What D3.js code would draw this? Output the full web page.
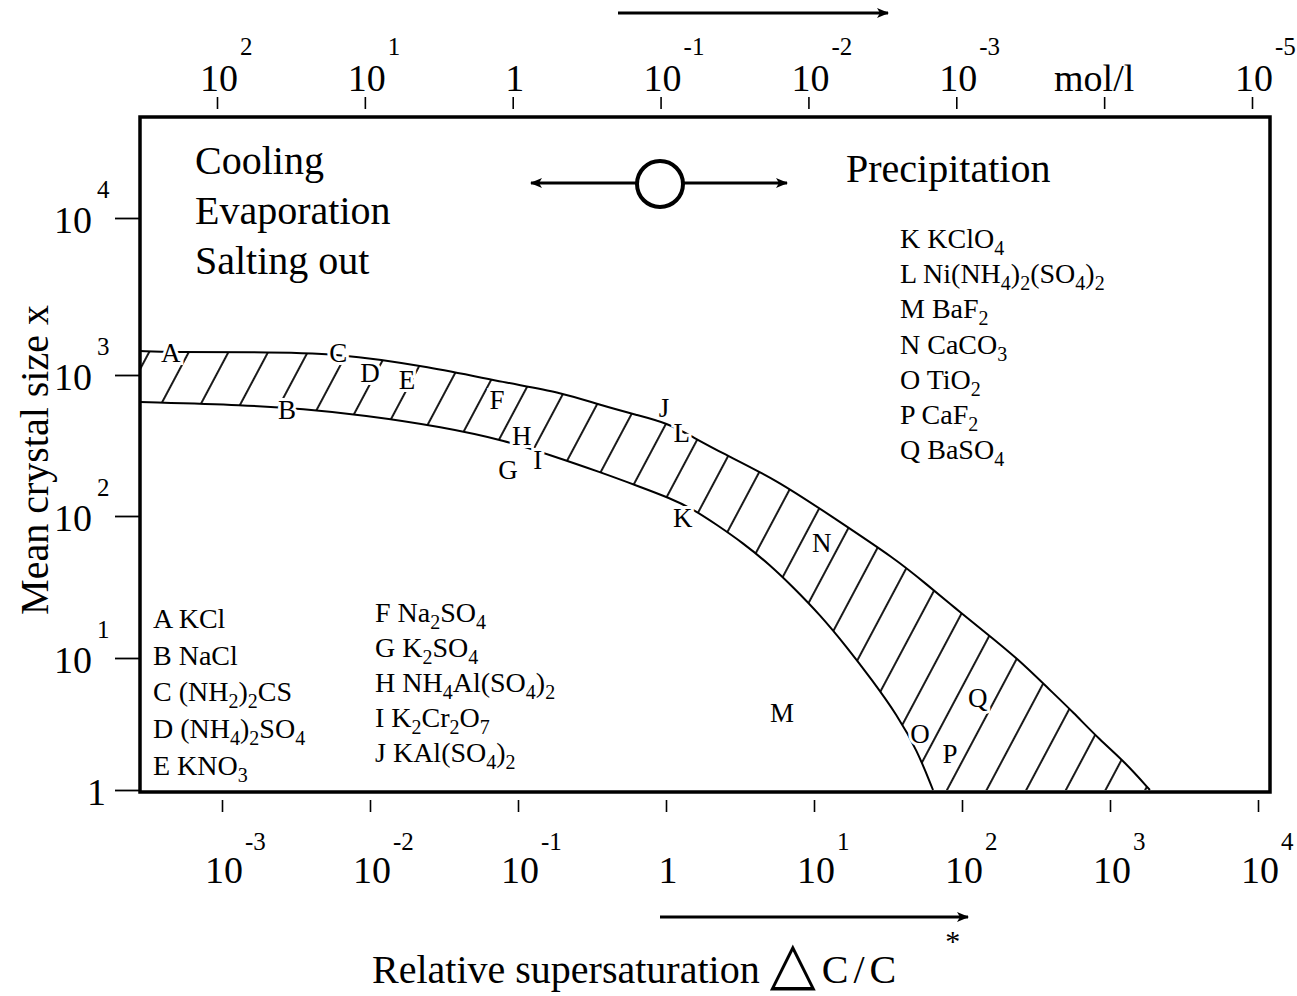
<!DOCTYPE html>
<html>
<head>
<meta charset="utf-8">
<script src="https://cdn.jsdelivr.net/npm/d3@7"></script>
<style>
  body { margin: 0; background: #fff; }
  text { font-family: "Liberation Serif", "Times New Roman", serif; fill: #000; }
</style>
</head>
<body>
<svg id="chart" width="1297" height="996"></svg>
<script>
// axis ticks and labels
const supersatTicks = [1e-3, 1e-2, 1e-1, 1, 1e1, 1e2, 1e3, 1e4];
const supersatLabels = [["10", "-3"], ["10", "-2"], ["10", "-1"], ["1", ""], ["10", "1"], ["10", "2"], ["10", "3"], ["10", "4"]];
const concTicks = [1e2, 1e1, 1, 1e-1, 1e-2, 1e-3, 1e-4, 1e-5];
const concLabels = [["10", "2"], ["10", "1"], ["1", ""], ["10", "-1"], ["10", "-2"], ["10", "-3"], ["mol/l", ""], ["10", "-5"]];
const sizeTicks = [1, 10, 100, 1000, 10000];
const sizeLabels = [["1", ""], ["10", "1"], ["10", "2"], ["10", "3"], ["10", "4"]];

// band limits: [relative supersaturation, mean crystal size]
const upperCurve = [
  [2.8e-4, 1420], [4.5e-4, 1400], [1.55e-3, 1400], [6.1e-3, 1380], [0.0254, 1125],
  [0.0843, 877], [0.192, 757], [0.358, 612], [0.637, 520], [1.02, 457],
  [1.52, 363], [2.32, 284], [5.62, 180], [13.4, 98], [36.4, 49],
  [56.2, 33.7], [89.7, 22.5], [143, 15.2], [235, 10], [394, 5.7],
  [562, 3.9], [855, 2.39], [1260, 1.63], [1860, 1]
];
const lowerCurve = [
  [2.8e-4, 644], [1.48e-3, 612], [3.5e-3, 574], [8.97e-3, 520], [0.0311, 428],
  [0.0843, 340], [0.164, 271], [0.358, 205], [0.667, 161], [1.06, 134],
  [1.52, 112], [2.21, 86.5], [3.31, 64.6], [5.05, 45.2], [7.21, 31.6],
  [11.0, 20.1], [16.7, 11.9], [24.7, 6.8], [36.4, 3.7], [49.7, 2.01], [63.7, 1]
];

// substance letters placed on the chart
const substanceIds = ["A", "B", "C", "D", "E", "F", "G", "H", "I", "J", "K", "L", "M", "N", "O", "P", "Q"];
const substanceSupersat = [4.5e-4, 2.75e-3, 6.1e-3, 0.01, 0.0178, 0.0721, 0.0855, 0.106, 0.136, 0.97, 1.30, 1.28, 6.08, 11.3, 52, 83, 128];
const substanceSize = [1380, 565, 1400, 1030, 922, 665, 212, 375, 250, 584, 98, 388, 3.83, 64.6, 2.7, 1.9, 4.98];

// legends
const legendCol1 = [["A", "KCl"], ["B", "NaCl"], ["C", "(NH2)2CS"], ["D", "(NH4)2SO4"], ["E", "KNO3"]];
const legendCol2 = [["F", "Na2SO4"], ["G", "K2SO4"], ["H", "NH4Al(SO4)2"], ["I", "K2Cr2O7"], ["J", "KAl(SO4)2"]];
const legendCol3 = [["K", "KClO4"], ["L", "Ni(NH4)2(SO4)2"], ["M", "BaF2"], ["N", "CaCO3"], ["O", "TiO2"], ["P", "CaF2"], ["Q", "BaSO4"]];

const processLabels = ["Cooling", "Evaporation", "Salting out"];

const svg = d3.select("#chart");
const frame = { left: 140, right: 1270, top: 117, bottom: 792 };

// scales (the original axes are hand drawn, the size axis is not evenly spaced)
const x = d3.scaleLog().domain([1e-3, 1e4]).range([222, 1258]);
const xTop = d3.scaleLog().domain([1e2, 1e-5]).range([217, 1252]);
const y = d3.scaleLog().domain(sizeTicks).range([790, 658, 516, 375, 218]);

const defs = svg.append("defs");
defs.append("clipPath").attr("id", "plot-clip")
  .append("rect")
  .attr("x", frame.left).attr("y", frame.top)
  .attr("width", frame.right - frame.left).attr("height", frame.bottom - frame.top);

const hatch = defs.append("pattern")
  .attr("id", "hatch")
  .attr("patternUnits", "userSpaceOnUse")
  .attr("width", 35).attr("height", 20)
  .attr("patternTransform", "rotate(28)");
hatch.append("line")
  .attr("x1", 17).attr("y1", 0).attr("x2", 17).attr("y2", 20)
  .attr("stroke", "#000").attr("stroke-width", 1.8);

defs.append("marker")
  .attr("id", "arrow")
  .attr("viewBox", "0 0 12 10")
  .attr("refX", 11).attr("refY", 5)
  .attr("markerWidth", 12).attr("markerHeight", 10)
  .attr("markerUnits", "userSpaceOnUse")
  .attr("orient", "auto-start-reverse")
  .append("path").attr("d", "M0,0L12,5L0,10L3,5Z").attr("fill", "#000");

// band between the two curves
const line = d3.line()
  .x(d => x(d[0]))
  .y(d => y(d[1]))
  .curve(d3.curveBasis);

const upperPath = line(upperCurve);
const lowerPath = line(lowerCurve);
const bandPath = upperPath + "L" + line(lowerCurve.slice().reverse()).slice(1) + "Z";

const plot = svg.append("g").attr("clip-path", "url(#plot-clip)");
plot.append("path").attr("d", bandPath).attr("fill", "url(#hatch)").attr("stroke", "none");
plot.selectAll("path.limit")
  .data([upperPath, lowerPath])
  .join("path")
  .attr("class", "limit")
  .attr("d", d => d)
  .attr("fill", "none")
  .attr("stroke", "#000")
  .attr("stroke-width", 2);

// letters on the curves, with a white halo so the lines break around them
svg.append("g")
  .selectAll("text")
  .data(substanceIds)
  .join("text")
  .attr("x", (d, i) => x(substanceSupersat[i]))
  .attr("y", (d, i) => y(substanceSize[i]))
  .attr("dy", "0.35em")
  .attr("text-anchor", "middle")
  .attr("font-size", 27)
  .attr("stroke", "#fff")
  .attr("stroke-width", 6)
  .attr("paint-order", "stroke")
  .text(d => d);

// frame
svg.append("rect")
  .attr("x", frame.left).attr("y", frame.top)
  .attr("width", frame.right - frame.left).attr("height", frame.bottom - frame.top)
  .attr("fill", "none").attr("stroke", "#000").attr("stroke-width", 3.5);

// axes
svg.append("g")
  .attr("transform", `translate(0,${frame.bottom + 8})`)
  .call(d3.axisBottom(x).tickValues(supersatTicks).tickSize(12).tickFormat(""))
  .call(g => g.select(".domain").remove())
  .call(g => g.selectAll("line").attr("stroke-width", 1.6));

svg.append("g")
  .attr("transform", `translate(0,${frame.top - 8})`)
  .call(d3.axisTop(xTop).tickValues(concTicks).tickSize(12).tickFormat(""))
  .call(g => g.select(".domain").remove())
  .call(g => g.selectAll("line").attr("stroke-width", 1.6));

svg.append("g")
  .attr("transform", `translate(${frame.left},0)`)
  .call(d3.axisLeft(y).tickValues(sizeTicks).tickSize(25).tickFormat(""))
  .call(g => g.select(".domain").remove())
  .call(g => g.selectAll("line").attr("stroke-width", 1.8));

// tick labels: base plus superscript
function powerLabels(g, ticks, labels, pos, opts) {
  const grp = g.append("g");
  grp.selectAll("text.base")
    .data(ticks)
    .join("text")
    .attr("class", "base")
    .attr("x", (d, i) => opts.bx(pos(d), labels[i]))
    .attr("y", (d, i) => opts.by(d))
    .attr("text-anchor", opts.anchor)
    .attr("font-size", 38)
    .text((d, i) => labels[i][0]);
  grp.selectAll("text.sup")
    .data(ticks)
    .join("text")
    .attr("class", "sup")
    .attr("x", (d, i) => opts.sx(pos(d)))
    .attr("y", d => opts.sy(d))
    .attr("font-size", 25)
    .text((d, i) => labels[i][1]);
}

powerLabels(svg, supersatTicks, supersatLabels, x, {
  anchor: "middle",
  bx: (p, l) => p + 2, by: () => 883,
  sx: p => p + 23, sy: () => 850
});
powerLabels(svg, concTicks, concLabels, xTop, {
  anchor: "middle",
  bx: (p, l) => l[0] === "mol/l" ? p - 10 : p + 2, by: () => 91,
  sx: p => p + 23, sy: () => 55
});
powerLabels(svg, sizeTicks, sizeLabels, d => d, {
  anchor: "end",
  bx: (p, l) => l[1] === "" ? 106 : 92, by: d => y(d) + 15,
  sx: () => 97, sy: d => y(d) - 20
});

// axis titles
svg.append("text")
  .attr("transform", "translate(48,460) rotate(-90)")
  .attr("text-anchor", "middle")
  .attr("font-size", 40)
  .text("Mean crystal size x");

const xTitle = svg.append("text")
  .attr("x", 372).attr("y", 983)
  .attr("font-size", 40);
xTitle.append("tspan").text("Relative supersaturation ");
xTitle.append("tspan").attr("font-family", "DejaVu Sans").attr("font-size", 60).text("\u25B3");
xTitle.append("tspan").attr("dx", 6).attr("letter-spacing", 5).text("C/C");
xTitle.append("tspan").attr("dx", 44).attr("dy", -32).attr("font-size", 30).text("*");

// arrows
const arrows = svg.append("g").attr("stroke", "#000").attr("stroke-width", 3);
arrows.append("line").attr("x1", 618).attr("y1", 13).attr("x2", 888).attr("y2", 13).attr("marker-end", "url(#arrow)");
arrows.append("line").attr("x1", 660).attr("y1", 917).attr("x2", 968).attr("y2", 917).attr("marker-end", "url(#arrow)");
arrows.append("line").attr("x1", 637).attr("y1", 183).attr("x2", 531).attr("y2", 183).attr("marker-end", "url(#arrow)");
arrows.append("line").attr("x1", 684).attr("y1", 183).attr("x2", 787).attr("y2", 183).attr("marker-end", "url(#arrow)");
arrows.append("circle").attr("cx", 660).attr("cy", 184).attr("r", 23).attr("fill", "none").attr("stroke-width", 4);

// process labels
svg.append("g")
  .selectAll("text")
  .data(processLabels)
  .join("text")
  .attr("x", 195)
  .attr("y", (d, i) => 174 + i * 50)
  .attr("font-size", 40)
  .text(d => d);

svg.append("text")
  .attr("x", 846).attr("y", 182)
  .attr("font-size", 40)
  .text("Precipitation");

// chemical formulas with subscripted digits
function formula(sel, str) {
  let low = false;
  (str.match(/\d+|[^\d]+/g) || []).forEach(part => {
    const isNum = /^\d/.test(part);
    const t = sel.append("tspan").text(part);
    if (isNum && !low) { t.attr("dy", 7); low = true; }
    else if (!isNum && low) { t.attr("dy", -7); low = false; }
    if (isNum) t.attr("font-size", 20);
  });
}

function legend(rows, x0, y0, step) {
  const g = svg.append("g");
  rows.forEach((r, i) => {
    const t = g.append("text")
      .attr("x", x0)
      .attr("y", y0 + i * step)
      .attr("font-size", 28);
    t.append("tspan").text(r[0] + " ");
    formula(t, r[1]);
  });
}

legend(legendCol1, 153, 628, 36.7);
legend(legendCol2, 375, 622, 35);
legend(legendCol3, 900, 248, 35.2);
</script>
</body>
</html>
